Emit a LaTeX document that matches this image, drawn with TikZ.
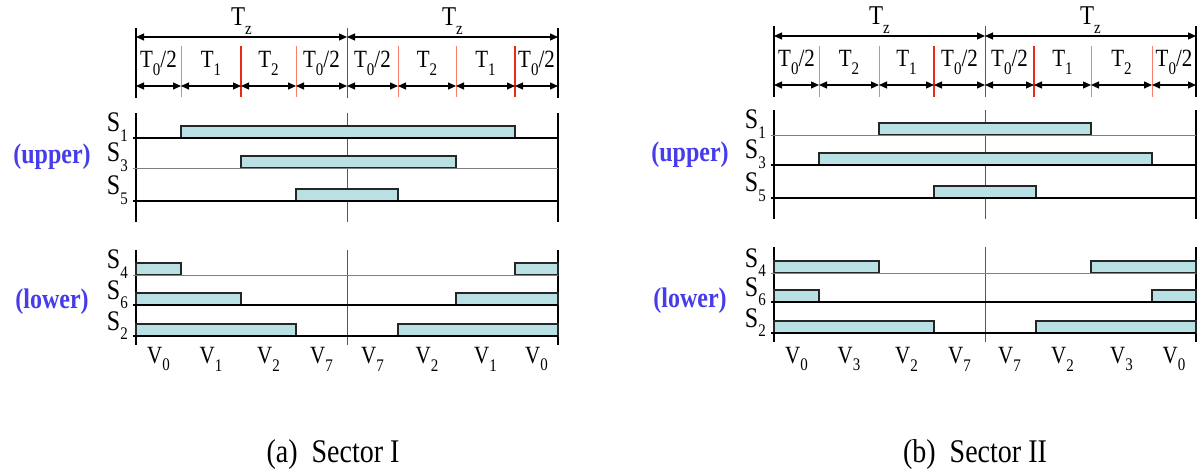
\documentclass[tikz,border=0pt]{standalone}
\usepackage{graphicx}
\usepackage{fontspec}
\setmainfont{Liberation Serif}
\usetikzlibrary{arrows.meta}
\definecolor{barfill}{RGB}{185,225,227}
\definecolor{sepred}{RGB}{235,40,20}
\definecolor{seplight}{RGB}{250,125,105}
\definecolor{lblue}{RGB}{70,60,235}
\newcommand\lowsub[1]{\raisebox{-0.32em}{\fontsize{15}{15}\selectfont #1}}
\newcommand\vst[1]{\scalebox{1}[1.18]{#1}}
\tikzset{
  dimarrow/.style={{Triangle[length=8pt,width=7pt]}-{Triangle[length=8pt,width=7pt]}, line width=1.2pt, black},
  frameline/.style={line width=1.5pt, black},
  midline/.style={line width=0.7pt, black!65},
  sigthick/.style={line width=1.4pt, black},
  sigthin/.style={line width=0.9pt, black!50},
  bar/.style={fill=barfill, draw=black!85, line width=1.1pt},
  sepline/.style={line width=1.2pt, sepred},
  sepweak/.style={line width=1pt, seplight},
  seglabel/.style={font=\fontsize{21}{21}\selectfont, inner sep=0pt},
  tzlabel/.style={font=\fontsize{23}{23}\selectfont, inner sep=0pt},
  slabel/.style={font=\fontsize{24}{24}\selectfont, inner sep=0pt},
  vlabel/.style={font=\fontsize{21}{21}\selectfont, inner sep=0pt},
  grplabel/.style={font=\fontsize{24}{24}\selectfont\bfseries, text=lblue, inner sep=0pt},
  caplabel/.style={font=\fontsize{28}{28}\selectfont, inner sep=0pt},
}
% #1 node name, #2 subscript, #3 baseline y, #4 line style, #5 bars a/b list
\newcommand\sigrow[5]{%
  \foreach \a/\b in {#5} {\draw[bar] (\a,#3) rectangle (\b,#3-12);}
  \draw[#4] (-3,#3) -- (422,#3);
  \node[slabel, anchor=base east] (#1) at (-8,#3-6) {\vst{S\lowsub{#2}}};
}
\begin{document}
\begin{tikzpicture}[x=1pt,y=-1pt]
\useasboundingbox (0,0) rectangle (1203,476);
\fill[white] (0,0) rectangle (1203,476);

% ================= Panel (a) =================
\begin{scope}[xshift=136pt]
  \draw[frameline] (0,28) -- (0,98);
  \draw[frameline] (422,28) -- (422,98);
  \draw[midline] (211,28) -- (211,98);
  \foreach \x in {45,160,262,320} {\draw[sepweak] (\x,46) -- (\x,97);}
  \foreach \x in {105,379} {\draw[sepline] (\x,46) -- (\x,97);}
  \coordinate (aL) at (0,37); \coordinate (aM) at (211,37); \coordinate (aR) at (422,37);
  \draw[dimarrow] (aL) -- (aM);
  \draw[dimarrow] (aM) -- (aR);
  \node[tzlabel] (aTz1) at (105.5,21) {\vst{T\lowsub{z}}};
  \node[tzlabel] (aTz2) at (316.5,21) {\vst{T\lowsub{z}}};
  \foreach \p/\q [count=\i] in {0/45,45/105,105/160,160/211,211/262,262/320,320/379,379/422}{
    \coordinate (as\i a) at (\p,86); \coordinate (as\i b) at (\q,86);
    \draw[dimarrow] (as\i a) -- (as\i b);
  }
  \foreach \m/\t [count=\i] in {22.5/{T\lowsub{0}/2},75/{T\lowsub{1}},132.5/{T\lowsub{2}},185.5/{T\lowsub{0}/2},236.5/{T\lowsub{0}/2},291/{T\lowsub{2}},349.5/{T\lowsub{1}},400.5/{T\lowsub{0}/2}}
    \node[seglabel] (at\i) at (\m,63) {\vst{\t}};
  % upper switches
  \draw[frameline] (0,113) -- (0,222);
  \draw[frameline] (422,113) -- (422,222);
  \draw[midline] (211,113) -- (211,222);
  \sigrow{aS1}{1}{138}{sigthick}{45/379}
  \sigrow{aS3}{3}{168}{sigthin}{105/320}
  \sigrow{aS5}{5}{201}{sigthick}{160/262}
  \node[grplabel] (aup) at (-84,157) {\vst{(upper)}};
  % lower switches
  \draw[frameline] (0,250) -- (0,345);
  \draw[frameline] (422,250) -- (422,345);
  \draw[midline] (211,250) -- (211,345);
  \sigrow{aS4}{4}{275}{sigthin}{0/45,379/422}
  \sigrow{aS6}{6}{305}{sigthick}{0/105,320/422}
  \sigrow{aS2}{2}{336}{sigthick}{0/160,262/422}
  \node[grplabel] (alo) at (-84,302) {\vst{(lower)}};
  \foreach \m/\t [count=\i] in {22.5/0,75/1,132.5/2,185.5/7,236.5/7,291/2,349.5/1,400.5/0}
    \node[vlabel] (av\i) at (\m,359) {\vst{V\lowsub{\t}}};
\end{scope}
\node[caplabel] (capa) at (333,455) {\vst{(a)\ \ Sector I}};

% ================= Panel (b) =================
\begin{scope}[xshift=774pt]
  \draw[frameline] (0,26) -- (0,97);
  \draw[frameline] (422,26) -- (422,97);
  \draw[midline] (211,26) -- (211,97);
  \foreach \x in {45,105,317,378} {\draw[sepweak] (\x,46) -- (\x,97);}
  \foreach \x in {160,260} {\draw[sepline] (\x,46) -- (\x,97);}
  \coordinate (bL) at (0,36); \coordinate (bM) at (211,36); \coordinate (bR) at (422,36);
  \draw[dimarrow] (bL) -- (bM);
  \draw[dimarrow] (bM) -- (bR);
  \node[tzlabel] (bTz1) at (105.5,20) {\vst{T\lowsub{z}}};
  \node[tzlabel] (bTz2) at (316.5,20) {\vst{T\lowsub{z}}};
  \foreach \p/\q [count=\i] in {0/45,45/105,105/160,160/211,211/260,260/317,317/378,378/422}{
    \coordinate (bs\i a) at (\p,85); \coordinate (bs\i b) at (\q,85);
    \draw[dimarrow] (bs\i a) -- (bs\i b);
  }
  \foreach \m/\t [count=\i] in {22.5/{T\lowsub{0}/2},75/{T\lowsub{2}},132.5/{T\lowsub{1}},185.5/{T\lowsub{0}/2},235.5/{T\lowsub{0}/2},288.5/{T\lowsub{1}},347.5/{T\lowsub{2}},400/{T\lowsub{0}/2}}
    \node[seglabel] (bt\i) at (\m,62) {\vst{\t}};
  \begin{scope}[yshift=3pt]
  \draw[frameline] (0,113) -- (0,222);
  \draw[frameline] (422,113) -- (422,222);
  \draw[midline] (211,113) -- (211,222);
  \sigrow{bS1}{1}{138}{sigthin}{105/317}
  \sigrow{bS3}{3}{168}{sigthick}{45/378}
  \sigrow{bS5}{5}{201}{sigthick}{160/262}
  \node[grplabel] (bup) at (-84,158) {\vst{(upper)}};
  \draw[frameline] (0,250) -- (0,345);
  \draw[frameline] (422,250) -- (422,345);
  \draw[midline] (211,250) -- (211,345);
  \sigrow{bS4}{4}{276}{sigthin}{0/105,317/422}
  \sigrow{bS6}{6}{305}{sigthick}{0/45,378/422}
  \sigrow{bS2}{2}{336}{sigthick}{0/160,262/422}
  \node[grplabel] (blo) at (-84,304) {\vst{(lower)}};
  \end{scope}
  \foreach \m/\t [count=\i] in {22.5/0,75/3,132.5/2,185.5/7,235.5/7,288.5/2,347.5/3,400/0}
    \node[vlabel] (bv\i) at (\m,359) {\vst{V\lowsub{\t}}};
\end{scope}
\node[caplabel] (capb) at (975,455) {\vst{(b)\ \ Sector II}};
\end{tikzpicture}
\end{document}
